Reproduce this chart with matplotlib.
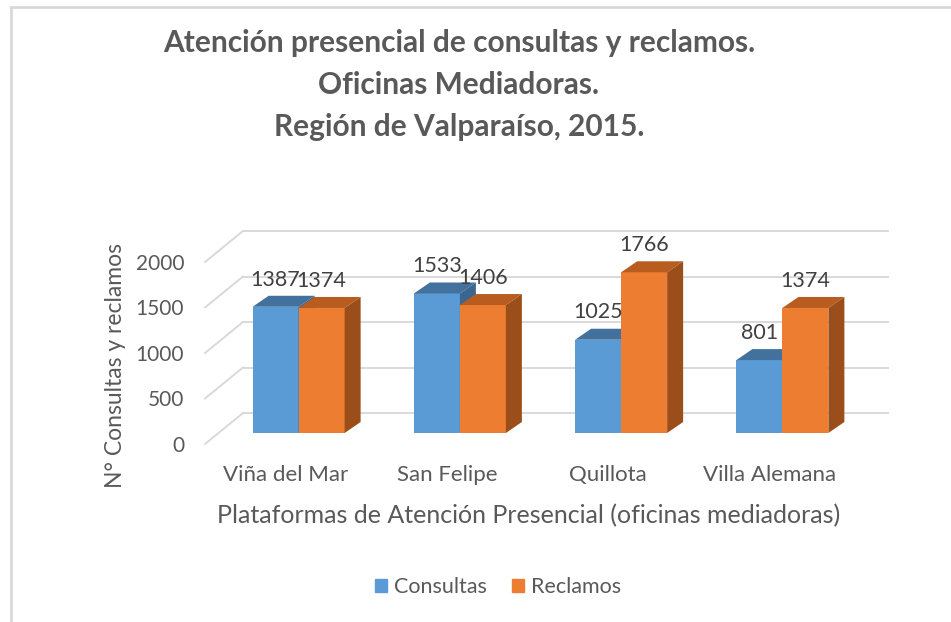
import matplotlib.pyplot as plt
from matplotlib.patches import Polygon, Patch
from matplotlib.lines import Line2D

oficinas = ['Viña del Mar', 'San Felipe', 'Quillota', 'Villa Alemana']
consultas = [1387, 1533, 1025, 801]
reclamos = [1374, 1406, 1766, 1374]
yticks = [0, 500, 1000, 1500, 2000]

plt.rcParams['font.family'] = ['Lato', 'DejaVu Sans']

W, H = 951, 622
fig = plt.figure(figsize=(W / 100, H / 100), dpi=100)

# axes box in pixels (front floor plane)
ax_l, ax_r, ax_b, ax_t = 205, 850, 444, 225.6
ymax = 2400
ax = fig.add_axes([ax_l / W, 1 - ax_b / H, (ax_r - ax_l) / W, (ax_b - ax_t) / H])
ax.set_xlim(-0.5, 3.5)
ax.set_ylim(0, ymax)

# pixel -> data conversion for the fake 3D depth
sx = 4 / (ax_r - ax_l)
sy = ymax / (ax_b - ax_t)
floor_dx, floor_dy = 38 * sx, 31 * sy
front_dx, front_dy = 13 * sx, 11 * sy
bar_dx, bar_dy = 16 * sx, 11 * sy
w = 46 * sx

grid_c = '#d9d9d9'
for v in yticks:
    ax.plot([-0.5 + floor_dx, 3.5 + floor_dx], [v + floor_dy, v + floor_dy],
            color=grid_c, lw=1.4, clip_on=False, zorder=1)
    ax.plot([-0.5, -0.5 + floor_dx], [v, v + floor_dy],
            color=grid_c, lw=1.4, clip_on=False, zorder=1)

series = [
    (consultas, -w, '#5b9bd5', '#41719c', '#3a6690'),
    (reclamos, 0, '#ed7d31', '#b85c1f', '#9c4e1a'),
]

for i in range(len(oficinas)):
    for vals, off, c_front, c_top, c_side in series:
        v = vals[i]
        x0 = i + off + front_dx
        x1 = x0 + w
        y0 = front_dy
        y1 = v + front_dy
        ax.bar(x0, v, width=w, bottom=y0, align='edge', color=c_front,
               edgecolor='none', zorder=3, clip_on=False)
        top = [(x0, y1), (x1, y1), (x1 + bar_dx, y1 + bar_dy), (x0 + bar_dx, y1 + bar_dy)]
        side = [(x1, y0), (x1 + bar_dx, y0 + bar_dy), (x1 + bar_dx, y1 + bar_dy), (x1, y1)]
        ax.add_patch(Polygon(top, closed=True, color=c_top, lw=0, zorder=3, clip_on=False))
        ax.add_patch(Polygon(side, closed=True, color=c_side, lw=0, zorder=3, clip_on=False))
        ax.annotate(str(v), (x0 + w / 2, y1 + bar_dy), xytext=(0, 4.5),
                    textcoords='offset points', ha='center', va='bottom',
                    fontsize=15.5, color='#404040', zorder=5, annotation_clip=False)

ax.set_yticks(yticks)
ax.set_xticks(range(len(oficinas)))
ax.set_xticklabels(oficinas)
ax.tick_params(axis='y', length=0, pad=15, labelsize=15, labelcolor='#595959')
ax.tick_params(axis='x', length=0, pad=15, labelsize=16, labelcolor='#595959')
for s in ax.spines.values():
    s.set_visible(False)
ax.patch.set_alpha(0)

fig.text(459 / W, 1 - 85 / H,
         'Atención presencial de consultas y reclamos.\nOficinas Mediadoras.\nRegión de Valparaíso, 2015.',
         ha='center', va='center', fontsize=21.5, fontweight='bold', color='#595959',
         linespacing=1.6)
fig.text(115 / W, 1 - 366 / H, 'N° Consultas y reclamos', rotation=90,
         ha='center', va='center', fontsize=16.5, color='#595959')
fig.text(529 / W, 1 - 516 / H, 'Plataformas de Atención Presencial (oficinas mediadoras)',
         ha='center', va='center', fontsize=18, color='#595959')

handles = [Patch(color='#5b9bd5', label='Consultas'), Patch(color='#ed7d31', label='Reclamos')]
fig.legend(handles=handles, loc='center', bbox_to_anchor=(498 / W, 1 - 587 / H), ncol=2,
           frameon=False, fontsize=15.5, handlelength=0.55, handleheight=0.55,
           handletextpad=0.3, columnspacing=1.2, labelcolor='#595959')

# light frame on the left and top edges
fig.add_artist(Line2D([11 / W, 11 / W], [0, 1 - 7 / H], color='#d9d9d9', lw=2))
fig.add_artist(Line2D([11 / W, 1], [1 - 7 / H, 1 - 7 / H], color='#d9d9d9', lw=2))

fig.savefig('out.png', dpi=100, facecolor='white')
